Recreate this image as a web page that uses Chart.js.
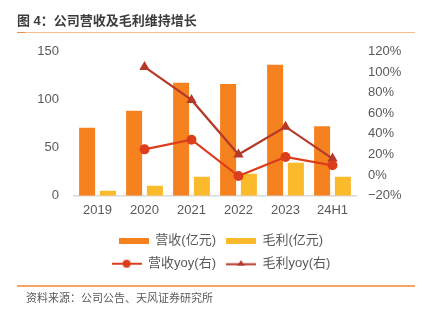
<!DOCTYPE html>
<html><head><meta charset="utf-8">
<script src="https://cdn.jsdelivr.net/npm/chart.js@4.4.0/dist/chart.umd.min.js"></script>
<style>
html,body{margin:0;padding:0;background:#fff;}
#wrap{position:relative;width:422px;height:323px;overflow:hidden;font-family:'Liberation Sans','Noto Sans CJK SC',sans-serif;}
#c{position:absolute;left:0;top:0;width:422px;height:323px;}
.title{position:absolute;left:17px;top:12px;font-size:13px;font-weight:bold;color:#3c3c3c;line-height:18px;white-space:nowrap;}
.rule1{position:absolute;left:17px;top:32px;width:398px;height:1px;background:#F8BC8E;}
.rule1b{position:absolute;left:17px;top:32px;width:8px;height:1px;background:#EE8A48;}
.rule2{position:absolute;left:17px;top:285px;width:398px;height:2px;background:#F6A55F;}
.src{position:absolute;left:26px;top:290px;font-size:11px;color:#595959;line-height:16px;white-space:nowrap;}
</style></head>
<body><div id="wrap">
<canvas id="c" width="422" height="323"></canvas>
<div class="title">图 4：公司营收及毛利维持增长</div>
<div class="rule1"></div><div class="rule1b"></div>
<div class="rule2"></div>
<div class="src">资料来源：公司公告、天风证券研究所</div>
</div>
<script>
const categories = ['2019', '2020', '2021', '2022', '2023', '24H1'];
const revenue = [70.7, 88.4, 117.5, 116.2, 136.3, 72.2];
const grossProfit = [5.2, 10.4, 19.8, 22.9, 34.3, 19.8];
const revenueYoy = [null, 25.0, 34.4, -0.9, 17.6, 9.5];
const grossYoy = [null, 105, 73, 20, 47, 16];
const leftTicks = [0, 50, 100, 150];
const rightTicks = [-20, 0, 20, 40, 60, 80, 100, 120];
const seriesNames = ['营收(亿元)', '毛利(亿元)', '营收yoy(右)', '毛利yoy(右)'];

const C_REV = '#F5821F', C_GP = '#FBBA2B', C_REVY = '#DC3D1B', C_GPY = '#B5392A';
const FONT = "'Liberation Sans','Noto Sans CJK SC',sans-serif";

function mk(w, h, fn) { const c = document.createElement('canvas'); c.width = w; c.height = h; fn(c.getContext('2d')); return c; }
const icons = [
  mk(30, 6, g => { g.fillStyle = C_REV; g.fillRect(0, 0, 30, 6); }),
  mk(30, 6, g => { g.fillStyle = C_GP; g.fillRect(0, 0, 30, 6); }),
  mk(30, 10, g => { g.strokeStyle = C_REVY; g.lineWidth = 2; g.beginPath(); g.moveTo(0, 5); g.lineTo(30, 5); g.stroke();
    g.fillStyle = C_REVY; g.beginPath(); g.arc(15, 5, 4, 0, Math.PI * 2); g.fill(); }),
  mk(30, 10, g => { g.strokeStyle = C_GPY; g.lineWidth = 2; g.beginPath(); g.moveTo(0, 5.5); g.lineTo(30, 5.5); g.stroke();
    g.fillStyle = C_GPY; g.beginPath(); g.moveTo(15, 1.5); g.lineTo(19, 7); g.lineTo(11, 7); g.closePath(); g.fill(); })
];

const legendRows = {
  id: 'legendRows',
  beforeUpdate(chart) {
    const L = chart.legend;
    if (L && !L._rowPatched) {
      const orig = L._fitRows;
      L._fitRows = function (a, b, c, d) { const mw = this.maxWidth; this.maxWidth = 262; const r = orig.call(this, a, b, c, d); this.maxWidth = mw; return r; };
      L._rowPatched = true;
    }
  }
};

new Chart(document.getElementById('c'), {
  data: {
    labels: categories,
    datasets: [
      { type: 'bar', label: seriesNames[0], data: revenue, backgroundColor: C_REV, yAxisID: 'y', order: 1, categoryPercentage: 0.885, barPercentage: 0.77 },
      { type: 'bar', label: seriesNames[1], data: grossProfit, backgroundColor: C_GP, yAxisID: 'y', order: 1, categoryPercentage: 0.885, barPercentage: 0.77 },
      { type: 'line', label: seriesNames[2], data: revenueYoy, borderColor: C_REVY, backgroundColor: C_REVY, borderWidth: 2.2, pointStyle: 'circle', pointRadius: 5, pointBorderWidth: 0, yAxisID: 'y1', order: 0, tension: 0 },
      { type: 'line', label: seriesNames[3], data: grossYoy, borderColor: C_GPY, backgroundColor: C_GPY, borderWidth: 2.2, pointStyle: 'triangle', pointRadius: 6, pointBorderWidth: 0, yAxisID: 'y1', order: 0, tension: 0 }
    ]
  },
  options: {
    responsive: false,
    animation: false,
    layout: { padding: { top: 51.5, left: 20, right: 0, bottom: 42.8 } },
    plugins: {
      tooltip: { enabled: false },
      legend: {
        position: 'bottom',
        labels: {
          usePointStyle: true,
          pointStyleWidth: 30,
          padding: 10,
          color: '#595959',
          font: { size: 13, family: FONT },
          generateLabels: chart => seriesNames.map((t, i) => ({ text: t, pointStyle: icons[i], datasetIndex: i, fontColor: '#595959', hidden: false, lineWidth: 0 }))
        }
      }
    },
    scales: {
      x: {
        grid: { display: false, drawTicks: false },
        border: { display: true, color: '#D9D9D9', width: 1.5 },
        ticks: { color: '#595959', font: { size: 13, family: FONT }, padding: 7 },
        afterFit: s => { s.height = 28.5; }
      },
      y: {
        position: 'left', min: 0, max: 150,
        grid: { display: false, drawTicks: false },
        border: { display: false },
        afterBuildTicks: s => { s.ticks = leftTicks.map(v => ({ value: v })); },
        ticks: { color: '#595959', font: { size: 13, family: FONT }, padding: 15 },
        afterFit: s => { s.width = 54; }
      },
      y1: {
        position: 'right', min: -20, max: 120,
        grid: { display: false, drawTicks: false },
        border: { display: false },
        afterBuildTicks: s => { s.ticks = rightTicks.map(v => ({ value: v })); },
        ticks: { color: '#595959', font: { size: 13, family: FONT }, padding: 12,
          callback: v => (v < 0 ? '−' : '') + Math.abs(v) + '%' },
        afterFit: s => { s.width = 66; }
      }
    }
  },
  plugins: [legendRows]
});
</script>
</body></html>
